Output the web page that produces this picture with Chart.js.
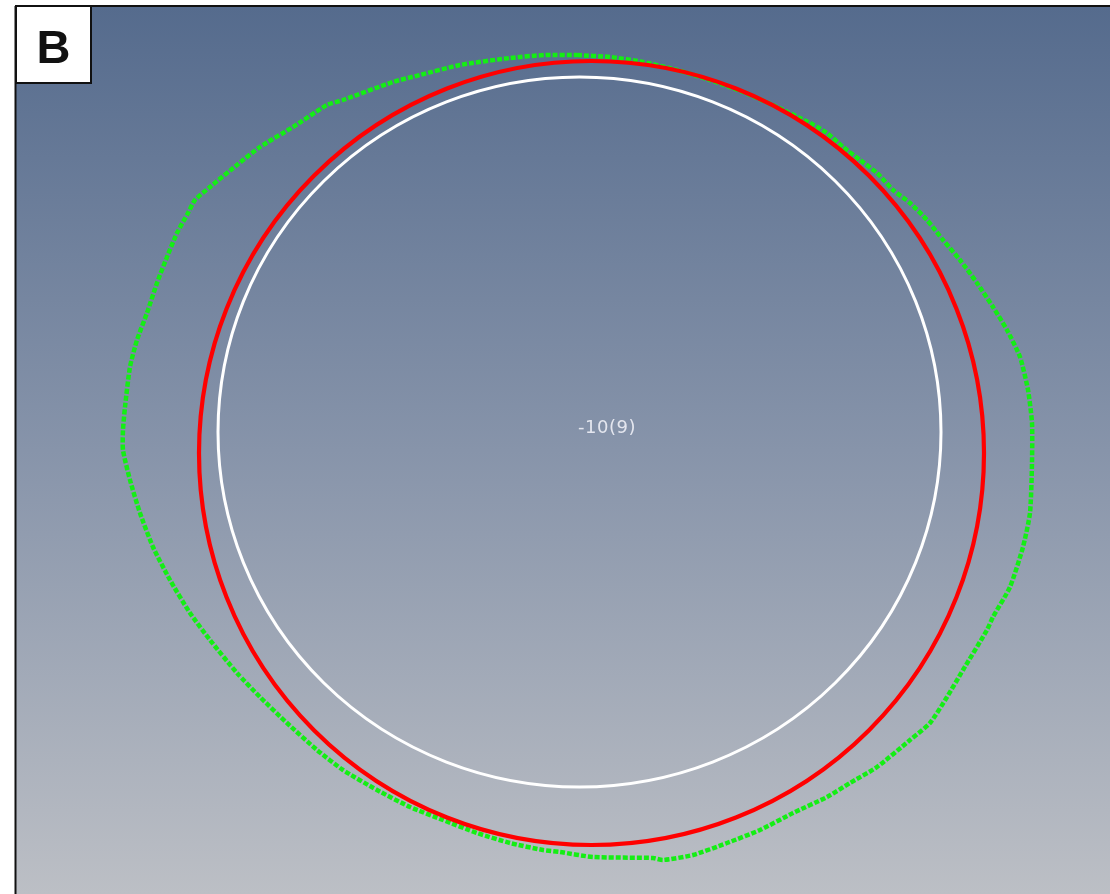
<!DOCTYPE html>
<html>
<head>
<meta charset="utf-8">
<title>B</title>
<script src="https://cdn.jsdelivr.net/npm/chart.js@4.4.1/dist/chart.umd.min.js"></script>
<style>
  html, body { margin: 0; padding: 0; background: #ffffff; }
  #wrap { position: relative; width: 1110px; height: 894px; }
  canvas { display: block; }
</style>
</head>
<body>
<div id="wrap"><canvas id="chart" width="1110" height="894"></canvas></div>
<script>
// Measured contour (green), traced clockwise from the top, in image units
const contourX = [577, 610, 643, 677, 710, 743, 777, 810, 827, 843, 860, 877, 893, 910, 927, 943, 960, 977, 993, 1007,
  1020, 1028, 1032, 1032, 1030, 1023, 1010, 993, 987, 963, 947, 930, 910, 877, 850, 827, 793, 760, 727, 693,
  663, 653, 593, 560, 543, 510, 477, 443, 410, 377, 343, 317, 287, 260, 237, 210, 190, 170, 153, 140,
  130, 123, 123, 125, 130, 137, 147, 157, 167, 177, 188, 195, 210, 237, 260, 293, 327, 343, 393, 420,
  460, 510, 545, 577];
const contourY = [55, 57, 62, 70, 80, 92, 107, 123, 133, 147, 160, 173, 190, 203, 220, 240, 260, 283, 307, 330,
  357, 390, 423, 463, 513, 547, 587, 617, 630, 670, 697, 723, 740, 767, 783, 797, 813, 830, 843, 855,
  860, 858, 857, 852, 850, 843, 833, 820, 807, 790, 770, 750, 723, 697, 673, 640, 613, 580, 547, 513,
  480, 450, 430, 407, 367, 340, 313, 283, 257, 233, 213, 200, 187, 165, 147, 127, 105, 100, 82, 75,
  65, 58, 55, 55];

// Fitted circle (red) and reference circle (white): centre x, centre y, radius x, radius y
const fitCircle = [591.5, 453, 392.5, 392];
const refCircle = [579.5, 432, 361.5, 355];

// Label at the centre of the section
const centerLabel = ['-10(9)'];
const centerLabelPos = [607, 428];

// Panel letter
const panelLetter = ['B'];

const contourPoints = contourX.map((x, i) => ({ x: x, y: contourY[i] }));

// Background panel with vertical gradient and frame
const panelBackground = {
  id: 'panelBackground',
  beforeDraw(chart) {
    const ctx = chart.ctx;
    const W = chart.width, H = chart.height;
    ctx.save();
    ctx.fillStyle = '#ffffff';
    ctx.fillRect(0, 0, W, H);
    const g = ctx.createLinearGradient(0, 7, 0, H);
    g.addColorStop(0, '#556b8d');
    g.addColorStop(0.5, '#8794aa');
    g.addColorStop(1, '#bcbfc5');
    ctx.fillStyle = g;
    ctx.fillRect(16, 7, W - 16, H - 7);
    ctx.strokeStyle = '#111111';
    ctx.lineWidth = 2;
    ctx.beginPath();
    ctx.moveTo(15, 6);
    ctx.lineTo(W, 6);
    ctx.moveTo(15.5, 6);
    ctx.lineTo(15.5, H);
    ctx.stroke();
    ctx.restore();
  }
};

// Circles drawn from centre and radii through the chart scales
function drawCircle(chart, c, color, width) {
  const xs = chart.scales.x, ys = chart.scales.y;
  const cx = xs.getPixelForValue(c[0]);
  const cy = ys.getPixelForValue(c[1]);
  const rx = Math.abs(xs.getPixelForValue(c[0] + c[2]) - cx);
  const ry = Math.abs(ys.getPixelForValue(c[1] + c[3]) - cy);
  const ctx = chart.ctx;
  ctx.save();
  ctx.strokeStyle = color;
  ctx.lineWidth = width;
  ctx.beginPath();
  ctx.ellipse(cx, cy, rx, ry, 0, 0, Math.PI * 2);
  ctx.stroke();
  ctx.restore();
}

const circlesAndLabels = {
  id: 'circlesAndLabels',
  afterDatasetsDraw(chart) {
    drawCircle(chart, fitCircle, '#ff0000', 4.2);
    drawCircle(chart, refCircle, '#ffffff', 3);
    const ctx = chart.ctx;
    const xs = chart.scales.x, ys = chart.scales.y;
    ctx.save();
    ctx.fillStyle = 'rgba(238,240,246,0.9)';
    ctx.font = '18px "DejaVu Sans", sans-serif';
    ctx.letterSpacing = '0.5px';
    ctx.textAlign = 'center';
    ctx.textBaseline = 'middle';
    ctx.fillText(centerLabel[0], xs.getPixelForValue(centerLabelPos[0]), ys.getPixelForValue(centerLabelPos[1]));
    ctx.restore();
  },
  afterDraw(chart) {
    const ctx = chart.ctx;
    ctx.save();
    ctx.fillStyle = '#ffffff';
    ctx.fillRect(16, 6, 75, 77);
    ctx.strokeStyle = '#111111';
    ctx.lineWidth = 2;
    ctx.strokeRect(16, 6, 75, 77);
    ctx.fillStyle = '#111111';
    ctx.font = 'bold 47px "Liberation Sans", Arial, sans-serif';
    ctx.textAlign = 'center';
    ctx.textBaseline = 'alphabetic';
    ctx.fillText(panelLetter[0], 53.5, 63);
    ctx.restore();
  }
};

new Chart(document.getElementById('chart'), {
  type: 'scatter',
  data: {
    datasets: [{
      label: 'contour',
      data: contourPoints,
      showLine: true,
      borderColor: '#14ee14',
      borderWidth: 4.5,
      borderDash: [5, 2],
      borderCapStyle: 'butt',
      tension: 0.2,
      pointRadius: 0,
      fill: false
    }]
  },
  options: {
    responsive: false,
    animation: false,
    events: [],
    layout: { padding: 0 },
    plugins: { legend: { display: false }, tooltip: { enabled: false } },
    scales: {
      x: { type: 'linear', min: 0, max: 1110, display: false },
      y: { type: 'linear', min: 0, max: 894, reverse: true, display: false }
    }
  },
  plugins: [panelBackground, circlesAndLabels]
});
</script>
</body>
</html>
